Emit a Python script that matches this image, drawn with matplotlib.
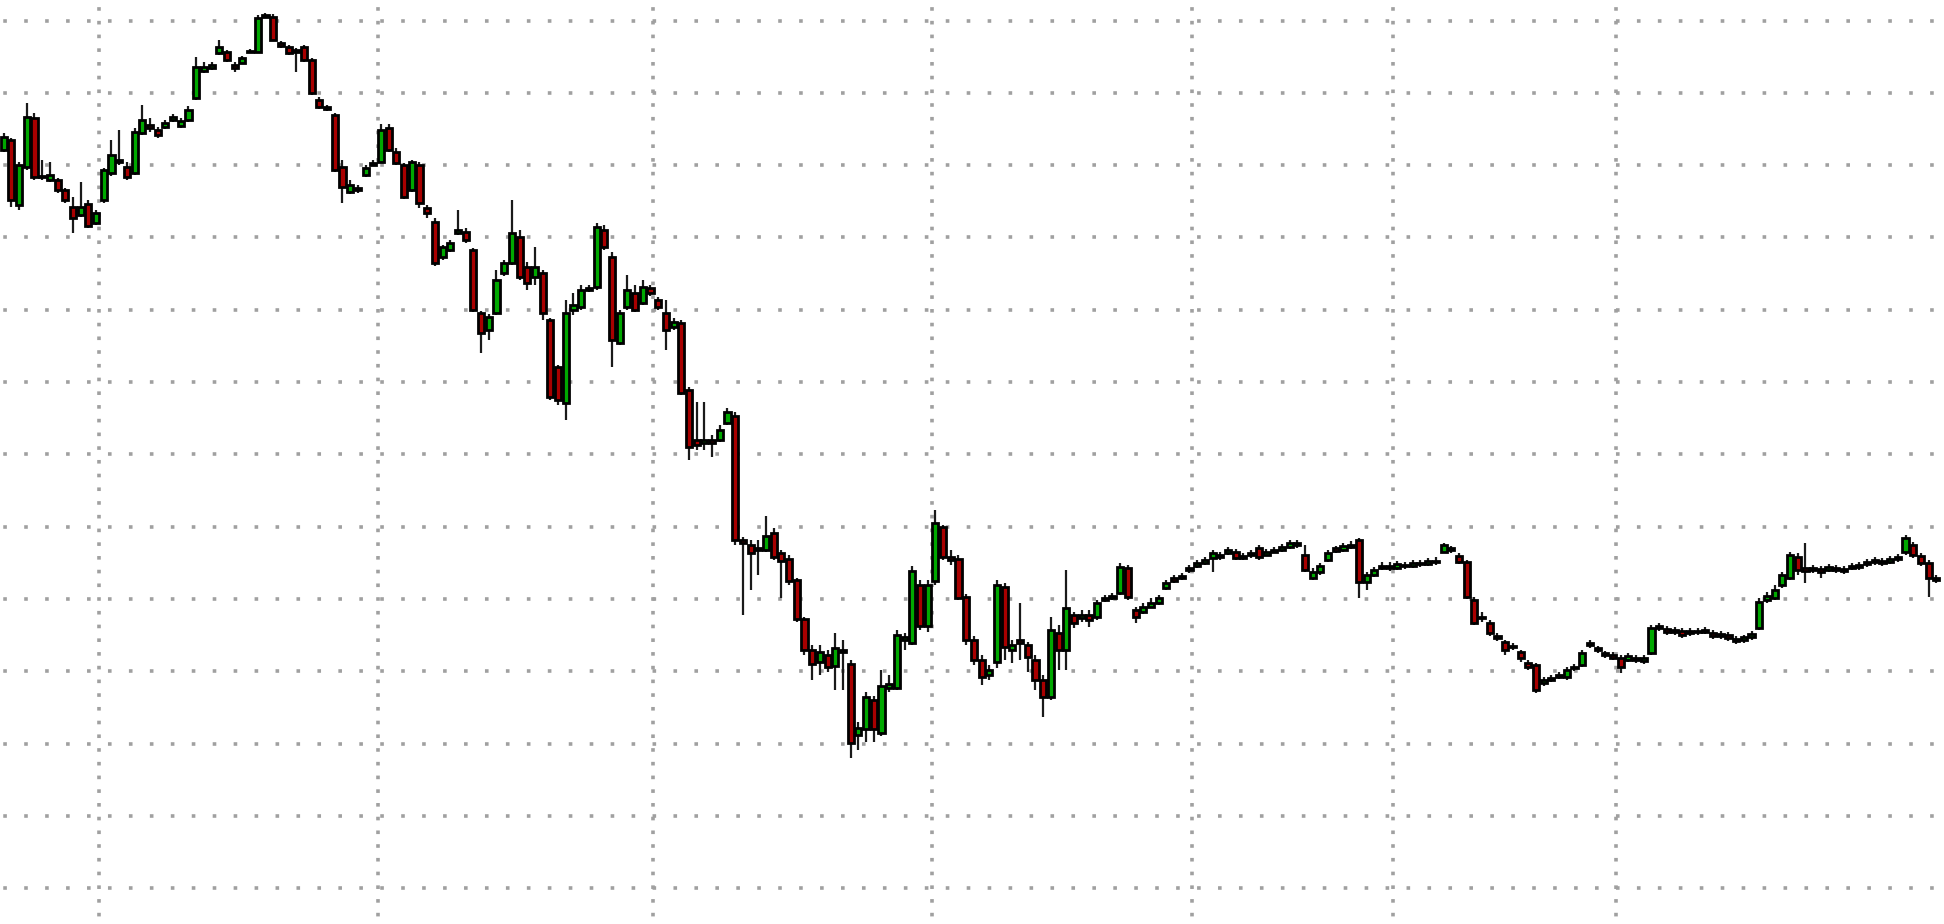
import numpy as np
import matplotlib
matplotlib.use("Agg")
import matplotlib.pyplot as plt

# OHLC values (price units), one candle per period
opens = [
    774, 784, 719, 757, 806, 747, 744, 744, 734, 717,
    709, 720, 701, 724, 751, 762, 757, 751, 791, 799,
    794, 797, 804, 798, 804, 826, 853, 856, 871, 872,
    859, 861, 872, 872, 907, 907, 881, 877, 874, 877,
    864, 824, 817, 809, 757, 732, 736, 749, 759, 762,
    796, 772, 759, 734, 759, 716, 702, 667, 674, 691,
    692, 674, 611, 594, 611, 651, 661, 687, 657, 647,
    651, 604, 557, 521, 614, 617, 634, 637, 694, 667,
    581, 617, 631, 621, 636, 624, 611, 597, 601, 534,
    484, 481, 484, 484, 501, 508, 384, 379, 374, 374,
    391, 371, 365, 344, 305, 274, 262, 269, 258, 274,
    260, 189, 195, 224, 191, 236, 236, 284, 281, 339,
    298, 343, 397, 367, 365, 327, 284, 264, 249, 262,
    337, 274, 284, 279, 264, 244, 227, 291, 274, 309,
    306, 309, 307, 324, 326, 331, 356, 314, 312, 317,
    321, 336, 346, 346, 354, 358, 361, 366, 369, 371,
    372, 366, 371, 376, 369, 372, 374, 377, 381, 369,
    346, 352, 364, 376, 374, 377, 384, 342, 349, 356,
    358, 356, 359, 358, 361, 360, 363, 372, 376, 368,
    362, 324, 307, 301, 288, 282, 278, 272, 261, 259,
    241, 244, 247, 247, 256, 259, 279, 276, 271, 269,
    266, 264, 266, 263, 271, 296, 295, 292, 293, 291,
    293, 292, 291, 288, 289, 285, 284, 287, 296, 324,
    326, 339, 346, 367, 356, 354, 355, 354, 356, 353,
    356, 357, 360, 362, 363, 362, 365, 372, 379, 368,
    361, 346,
]
closes = [
    787, 724, 759, 807, 747, 748, 749, 734, 724, 706,
    717, 698, 711, 754, 769, 764, 747, 792, 804, 796,
    789, 801, 807, 803, 814, 857, 857, 859, 877, 864,
    856, 866, 873, 906, 909, 884, 878, 871, 872, 864,
    831, 817, 815, 754, 737, 739, 734, 756, 761, 794,
    774, 761, 727, 762, 721, 711, 661, 677, 681, 694,
    684, 614, 591, 607, 644, 661, 691, 647, 641, 657,
    611, 527, 524, 611, 619, 634, 636, 697, 677, 584,
    611, 634, 614, 637, 631, 617, 594, 602, 531, 477,
    479, 484, 481, 494, 512, 384, 381, 371, 376, 388,
    367, 363, 343, 305, 274, 260, 272, 257, 276, 272,
    181, 196, 227, 195, 238, 240, 289, 287, 353, 298,
    339, 401, 367, 364, 326, 284, 264, 247, 254, 339,
    277, 279, 281, 267, 244, 227, 294, 274, 316, 301,
    309, 304, 321, 326, 328, 357, 327, 307, 317, 321,
    326, 341, 343, 348, 356, 361, 364, 371, 367, 374,
    366, 368, 369, 367, 372, 374, 377, 381, 379, 354,
    352, 358, 371, 373, 378, 379, 342, 349, 354, 358,
    356, 360, 358, 361, 360, 363, 362, 379, 374, 362,
    327, 301, 306, 291, 286, 274, 277, 266, 257, 234,
    244, 246, 249, 254, 257, 271, 281, 274, 269, 266,
    257, 268, 264, 266, 296, 298, 292, 294, 289, 293,
    292, 294, 288, 290, 286, 283, 287, 290, 322, 328,
    334, 349, 369, 354, 353, 356, 352, 357, 354, 355,
    358, 359, 362, 364, 361, 365, 367, 386, 369, 361,
    346, 344,
]
highs = [
    791, 786, 762, 821, 811, 764, 762, 746, 736, 727,
    742, 724, 714, 756, 784, 794, 762, 796, 819, 806,
    797, 804, 810, 806, 818, 867, 862, 862, 884, 874,
    862, 868, 875, 909, 911, 910, 883, 879, 876, 879,
    866, 827, 819, 811, 764, 744, 739, 759, 764, 800,
    800, 776, 761, 764, 762, 719, 706, 679, 684, 714,
    696, 676, 613, 610, 654, 664, 724, 694, 662, 677,
    654, 606, 559, 624, 631, 639, 639, 701, 699, 672,
    614, 649, 639, 644, 639, 627, 624, 606, 604, 537,
    522, 522, 489, 499, 516, 512, 387, 384, 384, 408,
    396, 374, 369, 346, 307, 279, 279, 274, 291, 284,
    264, 202, 232, 228, 254, 249, 294, 291, 358, 344,
    344, 414, 399, 374, 369, 330, 288, 269, 259, 344,
    341, 284, 321, 282, 269, 249, 307, 299, 354, 312,
    314, 314, 324, 329, 331, 361, 359, 317, 321, 326,
    329, 344, 349, 351, 359, 364, 367, 374, 372, 377,
    375, 371, 374, 379, 375, 377, 380, 384, 384, 379,
    356, 361, 374, 378, 381, 383, 386, 352, 357, 362,
    362, 363, 362, 364, 364, 366, 367, 381, 378, 371,
    364, 327, 312, 304, 291, 284, 281, 274, 264, 261,
    247, 249, 252, 257, 260, 274, 284, 278, 273, 272,
    269, 271, 269, 269, 299, 301, 298, 297, 296, 296,
    296, 297, 294, 293, 292, 288, 289, 293, 326, 332,
    339, 352, 372, 371, 381, 359, 358, 360, 359, 358,
    361, 362, 365, 367, 366, 368, 370, 389, 382, 371,
    364, 349,
]
lows = [
    772, 717, 714, 754, 744, 744, 742, 731, 721, 691,
    707, 696, 699, 721, 748, 759, 744, 749, 789, 792,
    786, 795, 802, 796, 802, 824, 851, 854, 869, 862,
    852, 860, 871, 871, 906, 883, 876, 869, 852, 862,
    829, 815, 813, 752, 721, 730, 731, 747, 758, 761,
    772, 759, 725, 732, 716, 706, 658, 664, 672, 689,
    681, 612, 571, 584, 609, 648, 659, 644, 634, 639,
    604, 524, 519, 504, 609, 614, 632, 634, 674, 557,
    579, 614, 612, 619, 628, 614, 574, 594, 529, 464,
    474, 474, 467, 482, 499, 379, 309, 334, 349, 372,
    364, 326, 339, 302, 269, 244, 249, 252, 234, 234,
    166, 174, 182, 182, 188, 232, 234, 274, 279, 294,
    292, 339, 364, 359, 324, 279, 259, 239, 244, 256,
    264, 261, 264, 252, 234, 207, 224, 254, 254, 296,
    302, 297, 304, 322, 324, 329, 324, 301, 310, 316,
    319, 334, 341, 344, 351, 356, 359, 352, 364, 369,
    364, 364, 366, 364, 368, 371, 372, 375, 376, 352,
    344, 349, 362, 371, 372, 375, 326, 334, 347, 354,
    353, 354, 355, 356, 357, 358, 359, 371, 371, 360,
    325, 299, 302, 288, 283, 269, 274, 262, 254, 231,
    238, 242, 245, 244, 253, 257, 276, 271, 266, 264,
    251, 262, 261, 260, 269, 293, 289, 289, 286, 288,
    289, 290, 285, 285, 283, 280, 281, 284, 294, 321,
    324, 336, 344, 349, 341, 351, 346, 352, 351, 350,
    354, 354, 357, 359, 358, 360, 362, 369, 366, 358,
    327, 341,
]

# grid levels (price) and period separators (candle index)
grid_levels = [35.9, 108.2, 180.5, 252.8, 325.1, 397.4, 469.7,
               542.0, 614.3, 686.6, 758.9, 831.2, 903.5]
grid_periods = [12.4, 48.6, 84.3, 120.6, 154.3, 180.4, 209.4]

o = np.array(opens, float)
c = np.array(closes, float)
h = np.array(highs, float)
l = np.array(lows, float)
x = np.arange(len(o))

fig = plt.figure(figsize=(19.44, 9.24), dpi=100)
ax = fig.add_axes([0, 0, 1, 1])

up = c >= o
body_colors = np.where(up, "#00a800", "#a80000")
ax.vlines(x, l, h, color="#1a1a1a", linewidth=1.6, zorder=2)
ax.bar(x, np.abs(c - o), bottom=np.minimum(o, c), width=0.8,
       color=body_colors, edgecolor="black", linewidth=2.0, zorder=3)

ax.set_xlim(-0.48, 251.99)
ax.set_ylim(0, 924)
ax.set_xticks(grid_periods)
ax.set_yticks(grid_levels)
ax.tick_params(length=0, labelbottom=False, labelleft=False)
for s in ax.spines.values():
    s.set_visible(False)
ax.set_axisbelow(True)
ax.xaxis.grid(True, color="#a0a0a0", linewidth=2.6, linestyle=(1.7, (1, 2.8)))
ax.yaxis.grid(True, color="#a0a0a0", linewidth=2.6, linestyle=(4.9, (1, 4.8)))

fig.savefig("out.png", dpi=100)
